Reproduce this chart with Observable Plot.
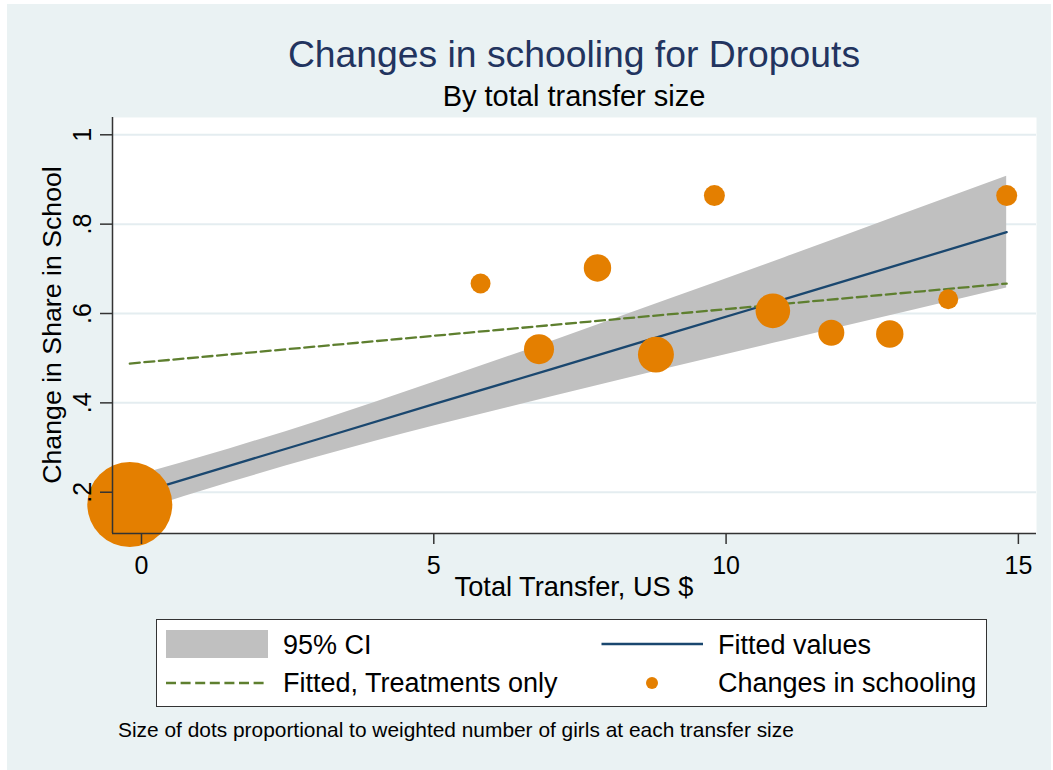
<!DOCTYPE html>
<html><head><meta charset="utf-8">
<script src="https://cdn.jsdelivr.net/npm/d3@7"></script>
<script src="https://cdn.jsdelivr.net/npm/@observablehq/plot@0.6"></script>
<style>
html,body{margin:0;padding:0;background:#fff;}
#page{position:relative;width:1053px;height:770px;overflow:hidden;font-family:"Liberation Sans",Arial,sans-serif;}
#bg{position:absolute;left:7px;top:4px;width:1044px;height:766px;background:#EAF2F3;}
#chart{position:absolute;left:0;top:100px;}
#overlay{position:absolute;left:0;top:0;}
#overlay text{font-family:"Liberation Sans",Arial,sans-serif;}
</style></head>
<body><div id="page"><div id="bg"></div><div id="chart"></div>
<svg id="overlay" width="1053" height="770">
  <text x="574" y="67" text-anchor="middle" font-size="37.3" fill="#22345F">Changes in schooling for Dropouts</text>
  <text x="574" y="106" text-anchor="middle" font-size="29" fill="#000">By total transfer size</text>
  <text x="574" y="596" text-anchor="middle" font-size="27.2" fill="#000">Total Transfer, US $</text>
  <text transform="translate(61,325) rotate(-90)" text-anchor="middle" font-size="26.7" fill="#000">Change in Share in School</text>
  <rect x="156.5" y="619.5" width="830" height="87" fill="#fff" stroke="#333" stroke-width="1"></rect>
  <rect x="166" y="630" width="102" height="28" fill="#C0C0C0"></rect>
  <text x="283" y="654" font-size="27">95% CI</text>
  <line x1="601.5" x2="703" y1="644" y2="644" stroke="#1A476F" stroke-width="2.3"></line>
  <text x="718" y="654" font-size="27">Fitted values</text>
  <line x1="166" x2="268" y1="683" y2="683" stroke="#5E7F2F" stroke-width="2.3" stroke-dasharray="10,4.6"></line>
  <text x="283" y="692" font-size="27">Fitted, Treatments only</text>
  <circle cx="652" cy="683" r="6" fill="#E47F00"></circle>
  <text x="718" y="692" font-size="27">Changes in schooling</text>
  <text x="118" y="737" font-size="20.9">Size of dots proportional to weighted number of girls at each transfer size</text>
</svg>
</div>
<script>
// Observed points: transfer size, change in share in school, relative weight (dot area)
const transfer = [-0.2, 5.8, 6.8, 7.8, 8.8, 9.8, 10.8, 11.8, 12.8, 13.8, 14.8];
const change   = [0.1725, 0.667, 0.520, 0.702, 0.508, 0.864, 0.606, 0.557, 0.554, 0.632, 0.864];
const weight   = [1000, 55, 125, 104, 179, 61, 166, 94, 104, 55, 61];

// Fitted values with 95% CI
const fitX     = [-0.2, 1.5, 3, 5, 7, 9, 11, 13, 14.8];
const fitY     = [0.192, 0.259, 0.318, 0.397, 0.475, 0.554, 0.632, 0.711, 0.782];
const ciLow    = [0.151, 0.221, 0.278, 0.348, 0.413, 0.477, 0.539, 0.601, 0.657];
const ciHigh   = [0.233, 0.297, 0.358, 0.446, 0.537, 0.631, 0.725, 0.821, 0.907];

// Fitted, treatments only
const treatX   = [-0.2, 14.8];
const treatY   = [0.488, 0.667];

const xTicks = [0, 5, 10, 15];
const yTicks = [0.2, 0.4, 0.6, 0.8, 1];
const xDomain = [-0.496, 15.31];
const yDomain = [0.1076, 1.0387];

const points = transfer.map((x, i) => ({x, y: change[i], w: weight[i]}));
const band = fitX.map((x, i) => ({x, fit: fitY[i], lo: ciLow[i], hi: ciHigh[i]}));
const treat = treatX.map((x, i) => ({x, y: treatY[i]}));

const axisColor = "#333";
const plot = Plot.plot({
  width: 1053,
  height: 510,
  marginTop: 17,
  marginBottom: 77,
  marginLeft: 112,
  marginRight: 17,
  style: {fontFamily: "Liberation Sans, Arial, sans-serif", fontSize: "25px", background: "transparent", overflow: "visible", color: "#000"},
  x: {domain: xDomain, axis: null},
  y: {domain: yDomain, axis: null},
  r: {type: "sqrt", domain: [0, d3.max(weight)], range: [0, 42.5]},
  marks: [
    Plot.frame({fill: "#fff", stroke: null}),
    Plot.ruleY(yTicks, {stroke: "#E4EDF0", strokeWidth: 2}),
    Plot.areaY(band, {x: "x", y1: "lo", y2: "hi", fill: "#C0C0C0", curve: "monotone-x"}),
    Plot.line(band, {x: "x", y: "fit", stroke: "#1A476F", strokeWidth: 2.3}),
    Plot.line(treat, {x: "x", y: "y", stroke: "#5E7F2F", strokeWidth: 2.3, strokeDasharray: "10,4.6"}),
    Plot.dot(points, {x: "x", y: "y", r: "w", fill: "#E47F00", stroke: null}),
    Plot.ruleX([xDomain[0]], {stroke: axisColor, strokeWidth: 1.5}),
    Plot.ruleY([yDomain[0]], {stroke: axisColor, strokeWidth: 1.5}),
    Plot.axisX(xTicks, {label: null, tickSize: 11, tickPadding: 12, stroke: axisColor, strokeWidth: 1.5, fill: "#000", tickFormat: d => String(d)}),
    Plot.axisY(yTicks, {label: null, tickSize: 12, tickPadding: 10, tickRotate: -90, stroke: axisColor, strokeWidth: 1.5, fill: "#000",
      tickFormat: d => d === 1 ? "1" : String(d).replace(/^0/, "")})
  ]
});
document.getElementById("chart").appendChild(plot);
</script>
</body></html>
